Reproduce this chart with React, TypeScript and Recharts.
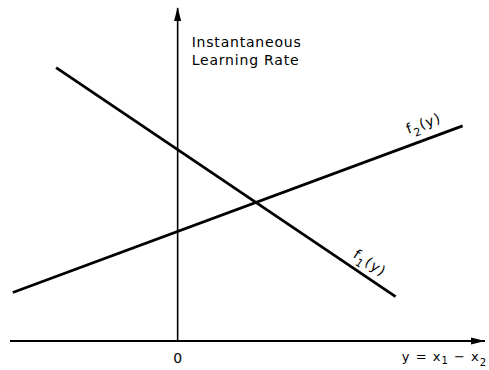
import React from 'react';
import {
  LineChart,
  Line,
  XAxis,
  YAxis,
  ReferenceLine,
  ReferenceDot,
  Label
} from 'recharts';

// Values (abstract units, y axis at x = 0)
const xDomain = [-6, 11];
const yDomain = [0, 12];
const xTicks = [0];

const f1Points = [
  { x: -4.35, f1: 9.85 },
  { x: 7.8, f1: 1.6 }
];

const f2Points = [
  { x: -5.9, f2: 1.75 },
  { x: 10.2, f2: 7.75 }
];

const FONT = '"DejaVu Sans", sans-serif';

// point on a 2-point line at fraction t
const along = (pts: any[], key: string, t: number) => ({
  x: pts[0].x + (pts[1].x - pts[0].x) * t,
  y: pts[0][key] + (pts[1][key] - pts[0][key]) * t
});

const f1Label = along(f1Points, 'f1', 0.94);
const f2Label = along(f2Points, 'f2', 0.91);

const UpArrow = (props: any) => {
  const { cx, cy } = props;
  return <path d={`M${cx},${cy - 1} L${cx - 3.5},${cy + 13} L${cx + 3.5},${cy + 13} Z`} fill="#000" />;
};

const RightArrow = (props: any) => {
  const { cx, cy } = props;
  return <path d={`M${cx},${cy} L${cx - 14},${cy - 3.5} L${cx - 14},${cy + 3.5} Z`} fill="#000" />;
};

const FuncLabel = (idx: string, angle: number, dx: number, dy: number) => (props: any) => {
  const { cx, cy } = props;
  const x = cx + dx;
  const y = cy + dy;
  return (
    <text
      x={x}
      y={y}
      transform={`rotate(${angle}, ${x}, ${y})`}
      fontFamily={FONT}
      fontSize={14}
      letterSpacing={1}
      fill="#000"
      textAnchor="middle"
    >
      f
      <tspan fontSize={11} dy={5}>{idx}</tspan>
      <tspan dy={-5}>(y)</tspan>
    </text>
  );
};

const AxisName = (props: any) => {
  const { viewBox } = props;
  const x = viewBox.x + viewBox.width + 2;
  const y = viewBox.y + 20;
  return (
    <text x={x} y={y} fontFamily={FONT} fontSize={13} letterSpacing={1} fill="#000" textAnchor="end">
      y = x<tspan fontSize={10} dy={3}>1</tspan>
      <tspan dy={-3}> − x</tspan>
      <tspan fontSize={10} dy={5}>2</tspan>
    </text>
  );
};

const Title = (props: any) => {
  const { viewBox } = props;
  const x = viewBox.x + 14;
  const y = viewBox.y + 39;
  return (
    <text x={x} y={y} fontFamily={FONT} fontSize={14} letterSpacing={0.8} fill="#000">
      <tspan x={x}>Instantaneous</tspan>
      <tspan x={x} dy={18}>Learning Rate</tspan>
    </text>
  );
};

export default function App() {
  return (
    <div style={{ position: 'absolute', left: 0, top: 0, background: '#fff' }}>
      <LineChart
        width={489}
        height={370}
        margin={{ top: 8, right: 4, bottom: 0, left: 10 }}
      >
        <XAxis
          dataKey="x"
          type="number"
          domain={xDomain}
          ticks={xTicks}
          allowDataOverflow
          height={29}
          tickLine={false}
          tickMargin={6}
          axisLine={{ stroke: '#000', strokeWidth: 1.8 }}
          tick={{ fill: '#000', fontSize: 14, fontFamily: FONT }}
        >
          <Label content={AxisName} />
        </XAxis>
        <YAxis type="number" domain={yDomain} hide allowDataOverflow />

        <ReferenceLine x={0} stroke="#000" strokeWidth={1.6}>
          <Label content={Title} />
        </ReferenceLine>
        <ReferenceDot x={0} y={yDomain[1]} shape={UpArrow} ifOverflow="visible" />
        <ReferenceDot x={xDomain[1]} y={0} shape={RightArrow} ifOverflow="visible" />

        <Line
          data={f1Points}
          dataKey="f1"
          stroke="#000"
          strokeWidth={2.8}
          dot={false}
          isAnimationActive={false}
        />
        <Line
          data={f2Points}
          dataKey="f2"
          stroke="#000"
          strokeWidth={2.8}
          dot={false}
          isAnimationActive={false}
        />

        <ReferenceDot x={f1Label.x} y={f1Label.y} shape={FuncLabel('1', 34, -8, -16)} ifOverflow="visible" />
        <ReferenceDot x={f2Label.x} y={f2Label.y} shape={FuncLabel('2', -20, 3, -13)} ifOverflow="visible" />
      </LineChart>
    </div>
  );
}
